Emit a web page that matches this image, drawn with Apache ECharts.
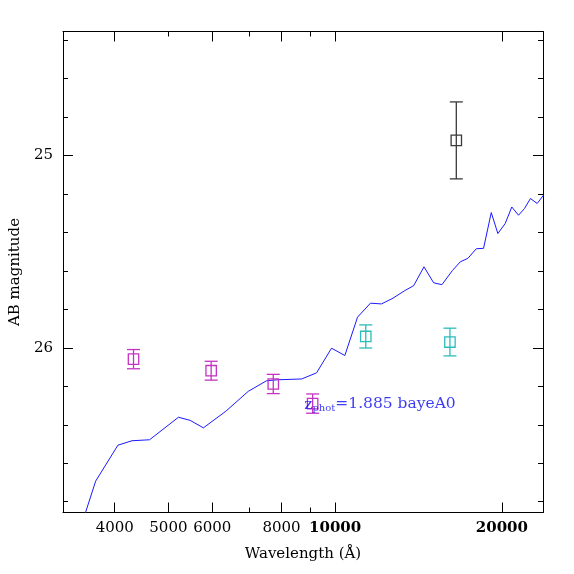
<!DOCTYPE html>
<html>
<head>
<meta charset="utf-8">
<script src="https://cdn.jsdelivr.net/npm/echarts@6/dist/echarts.min.js"></script>
<style>
html, body { margin: 0; padding: 0; background: #fff; }
#chart { width: 574px; height: 574px; }
</style>
</head>
<body>
<div id="chart"></div>
<script>
// best-fit template SED (wavelength in Angstrom, AB mag)
const sedWave = [3501, 3695, 4054, 4298, 4623, 5213, 5472, 5782, 6346, 6970, 7522, 7897, 8700, 9257, 9851,
  10411, 10974, 11582, 12122, 12719, 13352, 13859, 14466, 15058, 15587, 16275, 16824, 17364, 17982, 18533,
  19135, 19666, 20277, 20840, 21429, 21969, 22521, 23157, 23800];
const sedMag = [26.902, 26.693, 26.506, 26.483, 26.478, 26.361, 26.377, 26.416, 26.330, 26.226, 26.171, 26.166, 26.162, 26.130, 26.002,
  26.040, 25.841, 25.768, 25.772, 25.742, 25.703, 25.677, 25.579, 25.662, 25.672, 25.599, 25.553, 25.535, 25.485, 25.483,
  25.297, 25.406, 25.354, 25.268, 25.311, 25.276, 25.224, 25.250, 25.205];

// photometry: optical bands
const optWave = [4325, 5972, 7732, 9106];
const optMag = [26.059, 26.119, 26.188, 26.290];
const optErr = [0.050, 0.049, 0.050, 0.050];
// near-IR bands
const nirWave = [11357, 16114];
const nirMag = [25.941, 25.970];
const nirErr = [0.060, 0.072];
// unused band
const badWave = [16547];
const badMag = [24.922];
const badErr = [0.200];

const zphot = '1.885';
const template = 'bayeA0';
const labelAt = [8794, 26.29];

const waveRange = [3226, 23726];
const magRange = [24.356, 26.856];
const xLabels = [4000, 5000, 6000, 8000, 10000, 20000];
const xMajorTicks = [4000, 5000, 6000, 8000, 10000, 20000];
const xMinorTicks = [7000, 9000];
const xTopMajorTicks = [4000, 6000, 8000, 10000, 20000];
const xTopMinorTicks = [5000, 7000, 9000];
const yLabels = [25, 26];
const yMajorTicks = [25, 26];
const yMinorTicks = [24.4, 24.6, 24.8, 25.2, 25.4, 25.6, 25.8, 26.2, 26.4, 26.6, 26.8];

const FONT = 'DejaVu Serif';
const BLUE = '#0a0aee';
const lg = (w) => Math.log10(w);

function xAxisDef(position, majors, len, opts = {}) {
  return {
    type: 'value',
    position,
    min: lg(waveRange[0]),
    max: lg(waveRange[1]),
    splitLine: { show: false },
    axisLine: { show: !!opts.line, lineStyle: { color: '#000', width: 1 } },
    axisTick: { show: true, inside: true, length: len, customValues: majors.map(lg), lineStyle: { color: '#000', width: 1 } },
    axisLabel: { show: false },
    ...opts.extra,
  };
}

function yAxisDef(position, majors, len, opts = {}) {
  return {
    type: 'value',
    position,
    inverse: true,
    min: magRange[0],
    max: magRange[1],
    splitLine: { show: false },
    axisLine: { show: !!opts.line, lineStyle: { color: '#000', width: 1 } },
    axisTick: { show: true, inside: true, length: len, customValues: majors, lineStyle: { color: '#000', width: 1 } },
    axisLabel: { show: false },
    ...opts.extra,
  };
}

function photSeries(wave, mag, err, color) {
  return {
    type: 'custom',
    xAxisIndex: 0,
    yAxisIndex: 0,
    z: 5,
    data: wave.map((w, i) => [lg(w), mag[i], err[i]]),
    renderItem: (params, api) => {
      const x = api.value(0), y = api.value(1), e = api.value(2);
      const top = api.coord([x, y - e]);
      const bot = api.coord([x, y + e]);
      const c = api.coord([x, y]);
      const cap = 6.5, half = 5.2;
      const st = { stroke: color, lineWidth: 1.3, fill: null };
      return {
        type: 'group',
        children: [
          { type: 'line', shape: { x1: top[0], y1: top[1], x2: bot[0], y2: bot[1] }, style: st },
          { type: 'line', shape: { x1: top[0] - cap, y1: top[1], x2: top[0] + cap, y2: top[1] }, style: st },
          { type: 'line', shape: { x1: bot[0] - cap, y1: bot[1], x2: bot[0] + cap, y2: bot[1] }, style: st },
          { type: 'rect', shape: { x: c[0] - half, y: c[1] - half, width: 2 * half, height: 2 * half }, style: { stroke: color, lineWidth: 1.3, fill: 'none' } },
        ],
      };
    },
  };
}

const chart = echarts.init(document.getElementById('chart'), null, { renderer: 'canvas' });
chart.setOption({
  animation: false,
  backgroundColor: '#fff',
  textStyle: { fontFamily: FONT },
  grid: { left: 62, top: 31.5, right: 31, bottom: 61.5 },
  xAxis: [
    xAxisDef('bottom', xMajorTicks, 10, {
      line: true,
      extra: {
        name: 'Wavelength (Å)',
        nameLocation: 'middle',
        nameGap: 34,
        nameTextStyle: { fontFamily: FONT, fontSize: 15, color: '#000' },
        axisLabel: {
          show: true,
          customValues: xLabels.map(lg),
          margin: 8,
          fontFamily: FONT,
          fontSize: 15,
          color: '#000',
          formatter: (v) => {
            const n = Math.round(Math.pow(10, v));
            return n >= 10000 ? '{b|' + n + '}' : String(n);
          },
          rich: { b: { fontFamily: FONT, fontSize: 15, fontWeight: 'bold', color: '#000' } },
        },
      },
    }),
    xAxisDef('bottom', xMinorTicks, 5),
    xAxisDef('top', xTopMajorTicks, 10, { line: true }),
    xAxisDef('top', xTopMinorTicks, 5),
  ],
  yAxis: [
    yAxisDef('left', yMajorTicks, 10, {
      line: true,
      extra: {
        name: 'AB magnitude',
        nameLocation: 'middle',
        nameGap: 38,
        nameRotate: 90,
        nameTextStyle: { fontFamily: FONT, fontSize: 15, color: '#000' },
        axisLabel: {
          show: true,
          customValues: yLabels,
          margin: 10,
          fontFamily: FONT,
          fontSize: 15,
          color: '#000',
        },
      },
    }),
    yAxisDef('left', yMinorTicks, 5),
    yAxisDef('right', yMajorTicks, 10, { line: true }),
    yAxisDef('right', yMinorTicks, 5),
  ],
  series: [
    {
      type: 'line',
      xAxisIndex: 0,
      yAxisIndex: 0,
      data: sedWave.map((w, i) => [lg(w), sedMag[i]]),
      showSymbol: false,
      clip: true,
      lineStyle: { color: '#1a1aff', width: 1 },
      z: 3,
    },
    photSeries(optWave, optMag, optErr, '#c433c4'),
    photSeries(nirWave, nirMag, nirErr, '#2cbcbc'),
    photSeries(badWave, badMag, badErr, '#3a3a3a'),
    {
      type: 'scatter',
      xAxisIndex: 0,
      yAxisIndex: 0,
      symbolSize: 0,
      z: 6,
      data: [[lg(labelAt[0]), labelAt[1]]],
      label: {
        show: true,
        position: 'right',
        distance: 0,
        formatter: '{z|z}{s|phot}{t|=' + zphot + ' ' + template + '}',
        rich: {
          z: { fontFamily: FONT, fontSize: 15.5, color: BLUE, verticalAlign: 'bottom' },
          s: { fontFamily: FONT, fontSize: 10, color: BLUE, padding: [9, 0, 0, 0] },
          t: { fontFamily: FONT, fontSize: 15.5, color: BLUE },
        },
      },
    },
  ],
});
</script>
</body>
</html>
